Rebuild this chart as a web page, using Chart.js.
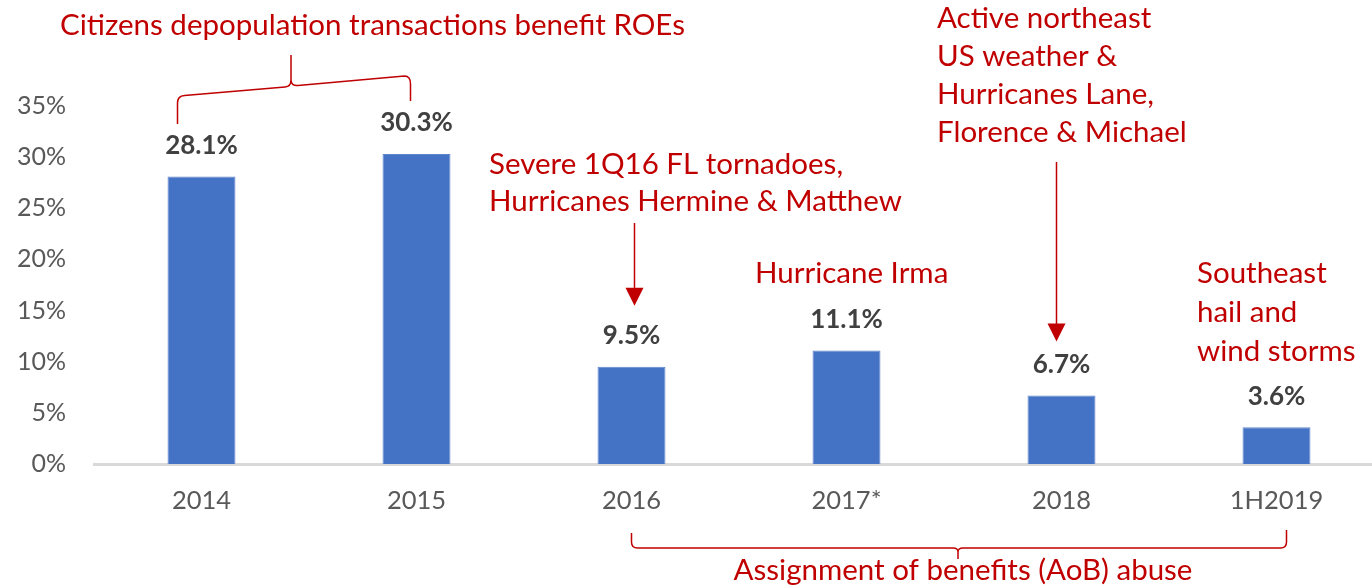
<html>
<head>
<meta charset="UTF-8">
<title>Citizens ROE by year</title>
<script src="https://cdn.jsdelivr.net/npm/chart.js@4.4.1/dist/chart.umd.min.js"></script>
<style>
  body { margin: 0; overflow: hidden; background: #fff; }
  #wrap { width: 1390px; height: 586px; }
</style>
</head>
<body>
<div id="wrap"><canvas id="myChart" width="1390" height="586"></canvas></div>
<script>
// chart values
var years = ['2014', '2015', '2016', '2017*', '2018', '1H2019'];
var roe = [28.1, 30.3, 9.5, 11.1, 6.7, 3.6];
var yTicks = [0, 5, 10, 15, 20, 25, 30, 35];

// red call-out texts
var noteTop = ['Citizens depopulation transactions benefit ROEs'];
var note2016 = ['Severe 1Q16 FL tornadoes,', 'Hurricanes Hermine & Matthew'];
var note2017 = ['Hurricane Irma'];
var note2018 = ['Active northeast', 'US weather &', 'Hurricanes Lane,', 'Florence & Michael'];
var note2019 = ['Southeast', 'hail and', 'wind storms'];
var noteBottom = ['Assignment of benefits (AoB) abuse'];

var RED = '#C00000';
var FONT = 'Lato, "Open Sans", sans-serif';

function lines(ctx, arr, x, y, gap, align) {
  ctx.textAlign = align || 'left';
  for (var i = 0; i < arr.length; i++) {
    ctx.fillText(arr[i], x, y + i * gap);
  }
}

function arrow(ctx, x, y0, y1) {
  ctx.beginPath();
  ctx.moveTo(x, y0);
  ctx.lineTo(x, y1 - 16);
  ctx.stroke();
  ctx.beginPath();
  ctx.moveTo(x - 9, y1 - 18);
  ctx.lineTo(x + 9, y1 - 18);
  ctx.lineTo(x, y1);
  ctx.closePath();
  ctx.fill();
}

var valueLabels = {
  id: 'valueLabels',
  afterDatasetsDraw: function(chart) {
    var ctx = chart.ctx;
    var meta = chart.getDatasetMeta(0);
    ctx.save();
    ctx.font = 'bold 26px ' + FONT;
    ctx.fillStyle = '#404040';
    ctx.textAlign = 'center';
    ctx.textBaseline = 'middle';
    meta.data.forEach(function(bar, i) {
      ctx.fillText(roe[i].toFixed(1) + '%', bar.x, bar.y - 31);
    });
    ctx.restore();
  }
};

var callouts = {
  id: 'callouts',
  afterDraw: function(chart) {
    var ctx = chart.ctx;
    var xs = chart.scales.x, ys = chart.scales.y;
    ctx.save();
    ctx.fillStyle = RED;
    ctx.strokeStyle = RED;
    ctx.lineWidth = 1.5;
    ctx.font = '29.5px ' + FONT;
    ctx.textBaseline = 'middle';

    lines(ctx, noteTop, 60, 25, 38);
    lines(ctx, note2016, 489, 164, 37);
    lines(ctx, note2017, 755, 273, 38);
    lines(ctx, note2018, 937, 18, 38);
    lines(ctx, note2019, 1197, 273, 39);
    lines(ctx, noteBottom, 963, 570, 38, 'center');

    // top brace over 2014-2015
    var a = xs.getPixelForValue(0) - 24, b = xs.getPixelForValue(1) - 6, m = (a + b) / 2 - 3;
    ctx.beginPath();
    ctx.moveTo(a, 124);
    ctx.lineTo(a, 103);
    ctx.quadraticCurveTo(a, 96, a + 7, 95.5);
    ctx.lineTo(m - 6, 87);
    ctx.quadraticCurveTo(m, 86.5, m, 80);
    ctx.lineTo(m, 55);
    ctx.moveTo(m, 80);
    ctx.quadraticCurveTo(m, 86, m + 7, 85.5);
    ctx.lineTo(b - 6, 76);
    ctx.quadraticCurveTo(b, 76, b, 84);
    ctx.lineTo(b, 101);
    ctx.stroke();

    // bottom brace 2016 - 1H2019
    var c = xs.getPixelForValue(2), d = xs.getPixelForValue(5) + 10, n = (c + d) / 2 - 1;
    ctx.beginPath();
    ctx.moveTo(c, 533);
    ctx.lineTo(c, 542);
    ctx.quadraticCurveTo(c, 548, c + 6, 548);
    ctx.lineTo(n - 5, 548);
    ctx.quadraticCurveTo(n, 548, n, 552);
    ctx.lineTo(n, 559);
    ctx.moveTo(n, 552);
    ctx.quadraticCurveTo(n, 548, n + 5, 548);
    ctx.lineTo(d - 6, 548);
    ctx.quadraticCurveTo(d, 548, d, 542);
    ctx.lineTo(d, 530);
    ctx.stroke();

    // arrows down to 2016 and 2018 labels
    arrow(ctx, xs.getPixelForValue(2) + 3, 223, ys.getPixelForValue(roe[2]) - 61);
    arrow(ctx, xs.getPixelForValue(4) - 5, 162, ys.getPixelForValue(roe[4]) - 54);
    ctx.restore();
  }
};

var ctx = document.getElementById('myChart').getContext('2d');
var myChart = new Chart(ctx, {
  type: 'bar',
  data: {
    labels: years,
    datasets: [{
      data: roe,
      backgroundColor: '#4472C4',
      borderColor: '#5F86CC',
      borderWidth: 1,
      barPercentage: 0.316,
      categoryPercentage: 1
    }]
  },
  options: {
    responsive: false,
    animation: false,
    devicePixelRatio: 1,
    layout: { padding: { top: 106, right: 6, bottom: 0, left: 0 } },
    plugins: { legend: { display: false }, tooltip: { enabled: false } },
    scales: {
      x: {
        grid: { display: false, drawTicks: false },
        border: { display: true, color: '#D9D9D9', width: 3 },
        ticks: { color: '#595959', font: { family: FONT, size: 25.5 }, padding: 21 },
        afterFit: function(s) { s.height = 122; }
      },
      y: {
        min: 0,
        max: 35,
        afterBuildTicks: function(s) { s.ticks = yTicks.map(function(v) { return { value: v }; }); },
        grid: { display: false, drawTicks: false },
        border: { display: false },
        ticks: {
          color: '#595959',
          font: { family: FONT, size: 25 },
          padding: 28,
          callback: function(v) { return v + '%'; }
        },
        afterFit: function(s) { s.width = 94; }
      }
    }
  },
  plugins: [valueLabels, callouts]
});
</script>
</body>
</html>
